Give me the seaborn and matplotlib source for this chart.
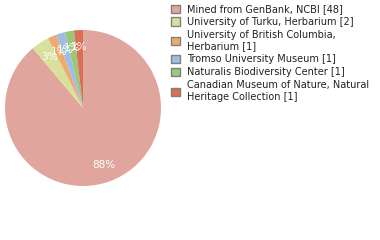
import matplotlib
matplotlib.use("Agg")
import matplotlib.pyplot as plt
import seaborn as sns

sns.set_style("white")
plt.rcParams['font.family'] = ['DejaVu Sans']

# data
labels = [
    "Mined from GenBank, NCBI [48]",
    "University of Turku, Herbarium [2]",
    "University of British Columbia,\nHerbarium [1]",
    "Tromso University Museum [1]",
    "Naturalis Biodiversity Center [1]",
    "Canadian Museum of Nature, Natural\nHeritage Collection [1]",
]
counts = [48, 2, 1, 1, 1, 1]
colors = ["#e0a69e", "#d9e09b", "#eeab70", "#9dbde2", "#9cc578", "#dc6e55"]


def pct_label(p):
    return "%d%%" % int(p)


fig = plt.figure(figsize=(3.8, 2.4), dpi=100)
ax = fig.add_axes([5 / 380, (240 - 186) / 240, 156 / 380, 156 / 240])

wedges, texts, autotexts = ax.pie(
    counts, colors=colors, startangle=90, counterclock=False,
    autopct=pct_label, pctdistance=0.78, radius=1.0,
    wedgeprops=dict(linewidth=0),
    textprops=dict(color="white", fontsize=7.5),
)
ax.set_aspect("equal")
ax.set_xlim(-1, 1)
ax.set_ylim(-1, 1)

handles = [plt.Rectangle((0, 0), 1, 1, facecolor=c, edgecolor="#808080", linewidth=1)
           for c in colors]
fig.legend(handles, labels, loc="upper left", bbox_to_anchor=(169 / 380, 1 - 2 / 240),
           frameon=False, fontsize=7, handlelength=0.9, handleheight=0.9,
           handletextpad=0.75, labelspacing=0.3, borderaxespad=0, borderpad=0.2,
           labelcolor="#222222")

fig.savefig("out.png", dpi=100)
